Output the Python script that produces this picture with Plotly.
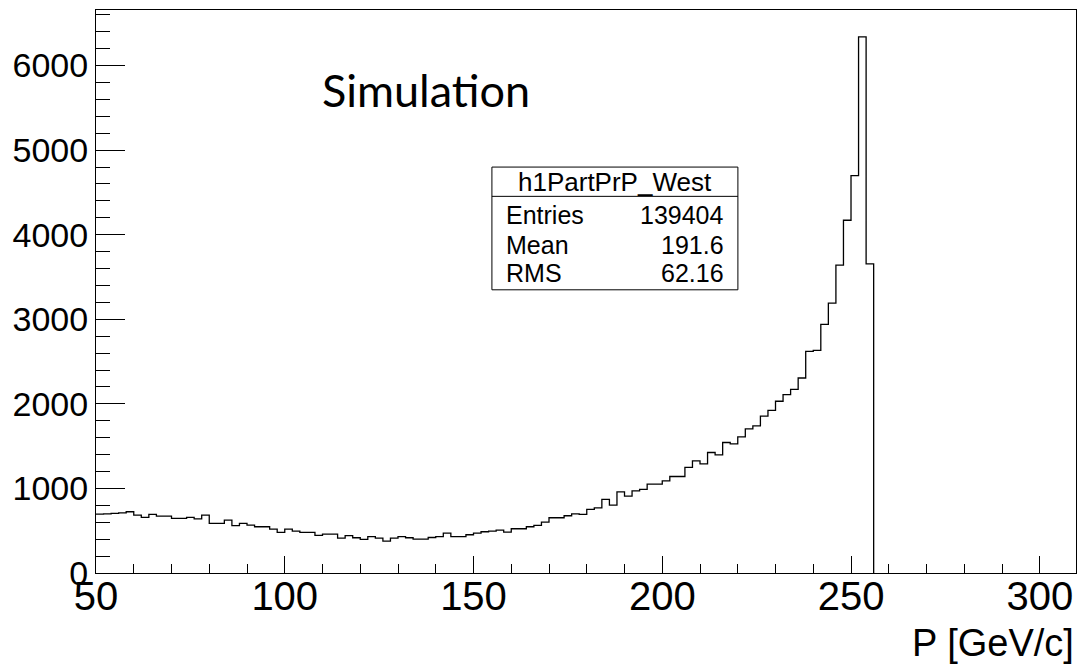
import plotly.graph_objects as go

# ---- data ----
bin_low = 50.0
bin_width = 2.0
counts = [
    697, 700, 705, 712, 724, 685, 657, 693, 673, 673,
    645, 645, 657, 641, 685, 586, 586, 626, 559, 586,
    567, 547, 547, 519, 480, 519, 496, 480, 480, 445,
    460, 460, 413, 441, 417, 397, 429, 413, 378, 413,
    429, 417, 401, 401, 420, 429, 472, 429, 429, 452,
    472, 488, 496, 508, 484, 523, 523, 547, 563, 602,
    653, 653, 677, 700, 693, 752, 771, 870, 803, 960,
    909, 972, 988, 1051, 1051, 1090, 1141, 1141, 1248, 1326,
    1291, 1425, 1397, 1543, 1527, 1609, 1704, 1739, 1854, 1924,
    2031, 2109, 2172, 2306, 2621, 2633, 2940, 3192, 3640, 4171,
    4699, 6340, 3656,
]
x_tick_vals = [50, 100, 150, 200, 250, 300]
y_tick_vals = [0, 1000, 2000, 3000, 4000, 5000, 6000]
x_range = [50, 309.6]
y_range = [0, 6657]

stats_title = "h1PartPrP_West"
stats_names = ["Entries", "Mean", "RMS"]
stats_values = ["139404", "191.6", "62.16"]
x_title = "P [GeV/c]"
label_text = "Simulation"

# ---- step outline built from bin edges ----
edges = [bin_low + i * bin_width for i in range(len(counts) + 1)]
xs = edges[:-1] + [edges[-1], edges[-1]]
ys = counts + [counts[-1], 0]

fig = go.Figure()
fig.add_trace(go.Scatter(
    x=xs, y=ys, mode="lines", line=dict(color="black", width=1.3, shape="hv"),
    hoverinfo="skip", showlegend=False,
))

font_main = "Liberation Sans, Arial, Helvetica, sans-serif"

fig.update_layout(
    width=1078, height=665,
    margin=dict(l=96, r=2, t=10, b=92),
    paper_bgcolor="white", plot_bgcolor="white",
    showlegend=False,
    xaxis=dict(
        range=x_range, tickvals=x_tick_vals, ticktext=[str(v) for v in x_tick_vals],
        ticks="inside", ticklen=17, tickwidth=1, tickcolor="black",
        minor=dict(dtick=10, ticks="inside", ticklen=9, tickcolor="black", tickwidth=1, showgrid=False),
        showgrid=False, zeroline=False,
        showline=True, linecolor="black", linewidth=1, mirror=True,
        tickfont=dict(family=font_main, size=40, color="black"),
        ticklabelstandoff=-12,
    ),
    yaxis=dict(
        range=y_range, tickvals=y_tick_vals, ticktext=[str(v) for v in y_tick_vals],
        ticks="inside", ticklen=29, tickwidth=1, tickcolor="black",
        minor=dict(dtick=200, ticks="inside", ticklen=14, tickcolor="black", tickwidth=1, showgrid=False),
        showgrid=False, zeroline=False,
        showline=True, linecolor="black", linewidth=1, mirror=True,
        tickfont=dict(family=font_main, size=34, color="black"),
    ),
)

# axis title (ROOT style, right-aligned below axis)
fig.add_annotation(text=x_title, xref="paper", yref="paper", x=1.0, y=-0.125,
                   xanchor="right", yanchor="middle", showarrow=False,
                   font=dict(family=font_main, size=38, color="black"))

# Simulation label
fig.add_annotation(text=label_text, xref="paper", yref="paper", x=0.337, y=0.858,
                   xanchor="center", yanchor="middle", showarrow=False,
                   font=dict(family="Lato, Carlito, Open Sans, sans-serif", size=45, color="black"))

# stats box
bx0, bx1 = 0.404, 0.655
by0, by1 = 0.503, 0.721
sep = 0.669
fig.add_shape(type="rect", xref="paper", yref="paper", x0=bx0, x1=bx1, y0=by0, y1=by1,
              line=dict(color="black", width=1), fillcolor="white")
fig.add_shape(type="line", xref="paper", yref="paper", x0=bx0, x1=bx1, y0=sep, y1=sep,
              line=dict(color="black", width=1))
fig.add_annotation(text=stats_title, xref="paper", yref="paper", x=(bx0 + bx1) / 2, y=0.695,
                   xanchor="center", yanchor="middle", showarrow=False,
                   font=dict(family=font_main, size=26, color="black"))
row_y = [0.636, 0.583, 0.533]
for name, val, yy in zip(stats_names, stats_values, row_y):
    fig.add_annotation(text=name, xref="paper", yref="paper", x=0.416, y=yy,
                       xanchor="left", yanchor="middle", showarrow=False,
                       font=dict(family=font_main, size=25, color="black"))
    fig.add_annotation(text=val, xref="paper", yref="paper", x=0.643, y=yy,
                       xanchor="right", yanchor="middle", showarrow=False,
                       font=dict(family=font_main, size=25, color="black"))

# remove the default body margin so the figure fills the window exactly
fig.write_html(
    "out.html",
    config={"displayModeBar": False},
    post_script="document.body.style.margin='0';document.body.style.overflow='hidden';",
)
